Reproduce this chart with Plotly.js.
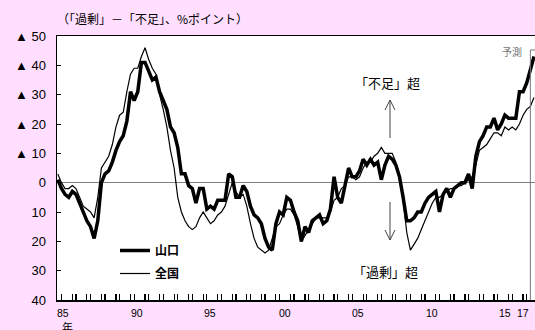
<!DOCTYPE html>
<html>
<head>
<meta charset="utf-8">
<script src="https://cdn.plot.ly/plotly-3.0.1.min.js"></script>
<style>
  html, body { margin: 0; padding: 0; background: #FFDEFF; }
  #chart { width: 535px; height: 330px; }
</style>
</head>
<body>
<div id="chart"></div>
<script>
// Employment conditions DI ("excess" minus "shortage", % points), quarterly from 1985Q1.
// The final quarter is the forecast value.
const startYear = 1985;

const yamaguchi = [
  -1, 2, 4, 5, 3, 4, 7, 10, 13, 15,
  19, 13, 0, -3, -4, -7, -11, -14, -16, -21,
  -31, -28, -31, -41, -41, -38, -35, -36, -31, -28,
  -25, -19, -17, -12, -3, -3, 1, 2, 7, 2,
  2, 9, 8, 9, 6, 6, 6, -3, -2, 5,
  5, 1, 3, 8, 11, 12, 14, 19, 22, 23,
  14, 10, 11, 5, 6, 10, 13, 20, 15, 17,
  13, 12, 11, 14, 13, 9, -2, 5, 7, 1,
  -5, -2, -2, -4, -8, -6, -8, -6, -7, -1,
  -6, -9, -8, -6, -2, 5, 13, 13, 12, 10,
  10, 7, 5, 4, 3, 10, 4, 2, 5, 2,
  1, 0, 0, -3, 2, -9, -14, -16, -19, -19,
  -22, -18, -20, -23, -22, -22, -22, -31, -31, -34,
  -38, -43
];

const zenkoku = [
  -3, 0, 2, 2, 1, 2, 5, 8, 9, 10,
  12, 5, -5, -7, -9, -13, -19, -23, -24, -31,
  -37, -39, -39, -43, -46, -42, -39, -37, -30, -25,
  -19, -11, -5, 5, 10, 13, 15, 16, 15, 12,
  10, 12, 14, 13, 11, 10, 8, 4, 0, 3,
  5, 4, 8, 14, 19, 22, 23, 24, 23, 19,
  15, 14, 11, 9, 9, 11, 15, 20, 18, 16,
  14, 12, 12, 12, 12, 10, 6, 5, 2, 1,
  -2, -2, -1, -2, -5, -7, -7, -9, -10, -12,
  -10, -10, -10, -7, -2, 6, 17, 23, 21, 19,
  16, 13, 10, 7, 5, 5, 4, 3, 2, 2,
  1, 1, 0, -1, -2, -6, -11, -12, -13, -15,
  -17, -17, -16, -19, -18, -19, -18, -20, -23, -25,
  -26, -29
];

const seriesNames = ['山口', '全国'];

// Year labels on the category axis and where they sit
const xLabels   = ['85', '90', '95', '00', '05', '10', '15', '17'];
const xLabelPos = [1985.38, 1990.43, 1995.47, 2000.63, 2005.67, 2010.72, 2015.76, 2017.02];

// Value axis: negative values are written with a leading ▲
const yTicks = [-50, -40, -30, -20, -10, 0, 10, 20, 30, 40];
const yTickText = yTicks.map(v => v < 0 ? '▲ ' + Math.abs(v) : String(v));

// Quarter positions; tick marks at the first two quarters of every year
const xq = yamaguchi.map((_, i) => startYear + i / 4);
const lastYear = Math.floor(xq[xq.length - 1]);
const qTicks = [];
for (let y = startYear; y <= lastYear; y++) { qTicks.push(y, y + 0.25); }
const forecastStart = xq[xq.length - 2];

// Page geometry helpers (pixel -> paper fraction)
const W = 535, H = 330, ML = 57, MR = 0, MT = 36, MB = 30;
const PW = W - ML - MR, PH = H - MT - MB;
const fx = p => (p - ML) / PW;
const fy = p => (H - MB - p) / PH;

const FONT = 'Liberation Sans, Arial, Noto Sans CJK JP, sans-serif';
const JFONT = 'Noto Sans CJK JP, sans-serif';

const traces = [
  { x: xq, y: yamaguchi, name: seriesNames[0], type: 'scatter', mode: 'lines',
    line: { color: '#000', width: 3.5 }, legendgroup: 'a' },
  { x: xq, y: zenkoku, name: seriesNames[1], type: 'scatter', mode: 'lines',
    line: { color: '#000', width: 1.2 }, legendgroup: 'b' }
];

const pxPerYear = 14.54;
const xStart = startYear - 0.8 / pxPerYear;
const xEnd = xStart + PW / pxPerYear;

// Open "V" arrows for the shortage / excess direction marks
function arrowPath(xp, yTail, yHead) {
  const d = yHead < yTail ? 1 : -1;   // +1 = pointing up
  const hx = 5, hy = 10;
  return 'M' + fx(xp) + ',' + fy(yTail) + ' L' + fx(xp) + ',' + fy(yHead) +
         ' M' + fx(xp - hx) + ',' + fy(yHead + d * hy) + ' L' + fx(xp) + ',' + fy(yHead) +
         ' L' + fx(xp + hx) + ',' + fy(yHead + d * hy);
}

const yearAnnotations = xLabels.map((t, k) => ({
  text: t, xref: 'x', yref: 'paper', x: xLabelPos[k], y: fy(313),
  xanchor: 'center', yanchor: 'middle', showarrow: false,
  font: { family: FONT, size: 10.5, color: '#000' }
}));

const layout = {
  width: W, height: H,
  margin: { l: ML, r: MR, t: MT, b: MB, pad: 0 },
  paper_bgcolor: '#FFDEFF',
  plot_bgcolor: '#FFFFFF',
  font: { family: FONT, color: '#000' },
  showlegend: true,
  legend: {
    x: fx(115), y: fy(236), xanchor: 'left', yanchor: 'top',
    bgcolor: 'rgba(0,0,0,0)', borderwidth: 0,
    font: { family: JFONT, size: 12, color: '#000', weight: 'bold' },
    tracegroupgap: 4, itemwidth: 30
  },
  xaxis: {
    range: [xStart, xEnd],
    tickmode: 'array', tickvals: qTicks, showticklabels: false,
    ticks: 'inside', ticklen: 6, tickwidth: 1.2, tickcolor: '#000',
    showgrid: false, zeroline: false,
    showline: true, linecolor: '#000', linewidth: 1.5, mirror: true
  },
  yaxis: {
    range: [40, -50],
    tickmode: 'array', tickvals: yTicks, ticktext: yTickText,
    ticks: 'inside', ticklen: 4, tickwidth: 1, tickcolor: '#000',
    showgrid: false,
    zeroline: true, zerolinecolor: '#808080', zerolinewidth: 1,
    showline: true, linecolor: '#000', linewidth: 1.5, mirror: true,
    tickfont: { family: FONT, size: 13, color: '#000' },
    ticklabelstandoff: 7
  },
  shapes: [
    { type: 'line', xref: 'x', yref: 'paper', x0: forecastStart, x1: forecastStart,
      y0: 0, y1: fy(50), line: { color: '#777', width: 1 } },
    { type: 'line', xref: 'x', yref: 'paper', x0: forecastStart, x1: xEnd,
      y0: fy(50), y1: fy(50), line: { color: '#777', width: 1 } },
    { type: 'path', xref: 'paper', yref: 'paper', path: arrowPath(390, 138, 100),
      line: { color: '#444', width: 1 } },
    { type: 'path', xref: 'paper', yref: 'paper', path: arrowPath(390, 202, 240),
      line: { color: '#444', width: 1 } }
  ],
  annotations: yearAnnotations.concat([
    { text: '（「過剰」－「不足」、%ポイント）', xref: 'paper', yref: 'paper',
      x: fx(152), y: fy(19), xanchor: 'center', yanchor: 'middle', showarrow: false,
      font: { family: JFONT, size: 12, color: '#000' } },
    { text: '「不足」超', xref: 'paper', yref: 'paper',
      x: fx(387), y: fy(83), xanchor: 'center', yanchor: 'middle', showarrow: false,
      font: { family: JFONT, size: 13, color: '#000' } },
    { text: '「過剰」超', xref: 'paper', yref: 'paper',
      x: fx(385), y: fy(271), xanchor: 'center', yanchor: 'middle', showarrow: false,
      font: { family: JFONT, size: 13, color: '#000' } },
    { text: '予測', xref: 'paper', yref: 'paper',
      x: fx(512), y: fy(52), xanchor: 'center', yanchor: 'middle', showarrow: false,
      font: { family: JFONT, size: 10, color: '#777' } },
    { text: '年', xref: 'paper', yref: 'paper',
      x: fx(67), y: fy(327), xanchor: 'center', yanchor: 'middle', showarrow: false,
      font: { family: JFONT, size: 11, color: '#000' } }
  ])
};

Plotly.newPlot('chart', traces, layout, { staticPlot: true, displayModeBar: false });
</script>
</body>
</html>
